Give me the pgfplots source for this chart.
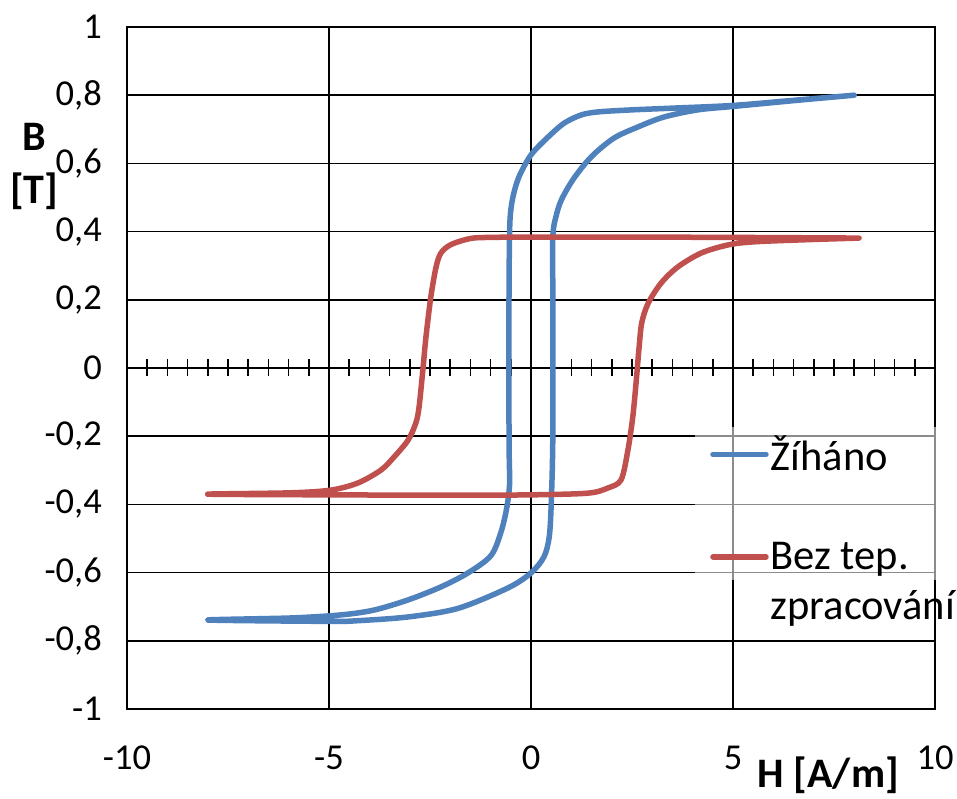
\documentclass[border=0pt]{standalone}
\usepackage{fontspec}
\setmainfont{Carlito}
\usepackage{pgfplots}
\pgfplotsset{compat=1.18}
\definecolor{exblue}{HTML}{4F81BD}
\definecolor{exred}{HTML}{C0504D}

\begin{document}
\begin{tikzpicture}
% tick marks on the zero lines
\begin{axis}[
  width=808pt, height=682pt, scale only axis,
  xmin=-10, xmax=10, ymin=-1, ymax=1,
  axis x line=middle, axis y line=middle,
  axis line style={-, line width=1.6pt, black},
  xtick={-10,-9.5,...,10}, xticklabels={},
  ytick=\empty, minor ytick={-1,-0.8,-0.6,-0.4,-0.2,0,0.2,0.4,0.6,0.8,1},
  yticklabels={},
  xtick align=center, ytick align=outside,
  major tick length=17pt, minor tick length=10pt,
  tick style={line width=1.6pt, black},
]
\end{axis}
\begin{axis}[
  width=808pt, height=682pt, scale only axis,
  xmin=-10, xmax=10, ymin=-1, ymax=1,
  clip=false,
  xtick={-10,-5,0,5,10},
  xticklabels={-10,-5,0,5,10},
  ytick={-1,-0.8,-0.6,-0.4,-0.2,0,0.2,0.4,0.6,0.8,1},
  yticklabels={-1,{-0,8},{-0,6},{-0,4},{-0,2},0,{0,2},{0,4},{0,6},{0,8},1},
  grid=major, grid style={line width=1.6pt, black},
  axis line style={line width=1.6pt, black},
  major tick length=0pt, tick style={draw=none},
  tick label style={font=\fontsize{36.5}{42}\selectfont, inner sep=0pt},
  yticklabel style={anchor=east, xshift=-25pt},
  xticklabel style={anchor=base, yshift=-60pt},
  legend cell align=left,
  legend style={at={(0.703,0.4135)}, anchor=north west, draw=none,
    fill=white, fill opacity=0.55, text opacity=1,
    inner xsep=15pt, inner ysep=7pt,
    font=\fontsize{42.5}{50}\selectfont, row sep=66pt,
    nodes={inner sep=2pt}},
  legend image code/.code={\draw[#1, line cap=round] (0pt,0pt) -- (53pt,0pt);},
]
\coordinate (O) at (rel axis cs:0,0);
\addplot[exblue, line width=5.5pt, smooth, line cap=round, line join=round] coordinates {
(8.0,0.800) (6.5,0.785) (5.0,0.770) (3.5,0.762) (2.5,0.757) (1.66,0.751)
(1.24,0.742) (0.82,0.718) (0.42,0.677) (0.0,0.625) (-0.30,0.560) (-0.45,0.500)
(-0.52,0.434) (-0.54,0.30) (-0.55,0.0) (-0.54,-0.25) (-0.53,-0.34) (-0.60,-0.41)
(-0.74,-0.48) (-0.99,-0.55) (-1.56,-0.601) (-2.23,-0.642) (-3.04,-0.680)
(-3.89,-0.710) (-4.70,-0.724) (-5.94,-0.733) (-8.0,-0.739)
(-5.0,-0.743) (-4.28,-0.741) (-3.04,-0.730) (-1.81,-0.705) (-0.57,-0.645)
(0.0,-0.601) (0.32,-0.554) (0.45,-0.496) (0.50,-0.40) (0.54,-0.2) (0.54,0.2)
(0.54,0.384) (0.62,0.445) (0.76,0.495) (1.06,0.556) (1.49,0.619) (2.05,0.674)
(2.65,0.707) (3.29,0.736) (4.13,0.757) (5.0,0.767) (6.5,0.784) (8.0,0.800)
};
\addlegendentry{Žíháno}
\addplot[exred, line width=5.5pt, smooth, line cap=round, line join=round] coordinates {
(8.12,0.381) (5,0.383) (2,0.384) (0,0.384) (-1.0,0.383) (-1.49,0.380)
(-1.98,0.362) (-2.23,0.337) (-2.35,0.296) (-2.48,0.208) (-2.60,0.091)
(-2.67,0.003) (-2.77,-0.114) (-2.85,-0.161) (-3.04,-0.211) (-3.39,-0.261)
(-3.71,-0.299) (-4.28,-0.337) (-4.95,-0.358) (-5.94,-0.366) (-8.0,-0.370)
(-5.0,-0.372) (-2.0,-0.373) (0,-0.372) (1.41,-0.367) (1.90,-0.352)
(2.23,-0.328) (2.40,-0.24) (2.52,-0.143) (2.60,-0.044) (2.67,0.053)
(2.74,0.132) (2.90,0.190) (3.22,0.249) (3.63,0.296) (4.21,0.337)
(4.88,0.361) (5.52,0.370) (6.76,0.376) (8.12,0.381)
};
\addlegendentry{\vtop{\hbox{Bez tep.}\hbox{zpracování}}}
\node[font=\bfseries\fontsize{42}{53}\selectfont, align=center, inner sep=0pt]
  at (rel axis cs:-0.115,0.796) {B\\{[T]}};
\node[font=\bfseries\fontsize{42}{48}\selectfont, inner sep=0pt]
  at (rel axis cs:0.868,-0.097) {H [A/m]};
\end{axis}
\pgfresetboundingbox
\path (O) ++(-127pt,-89pt) rectangle ++(957pt,798pt);
\end{tikzpicture}
\end{document}
